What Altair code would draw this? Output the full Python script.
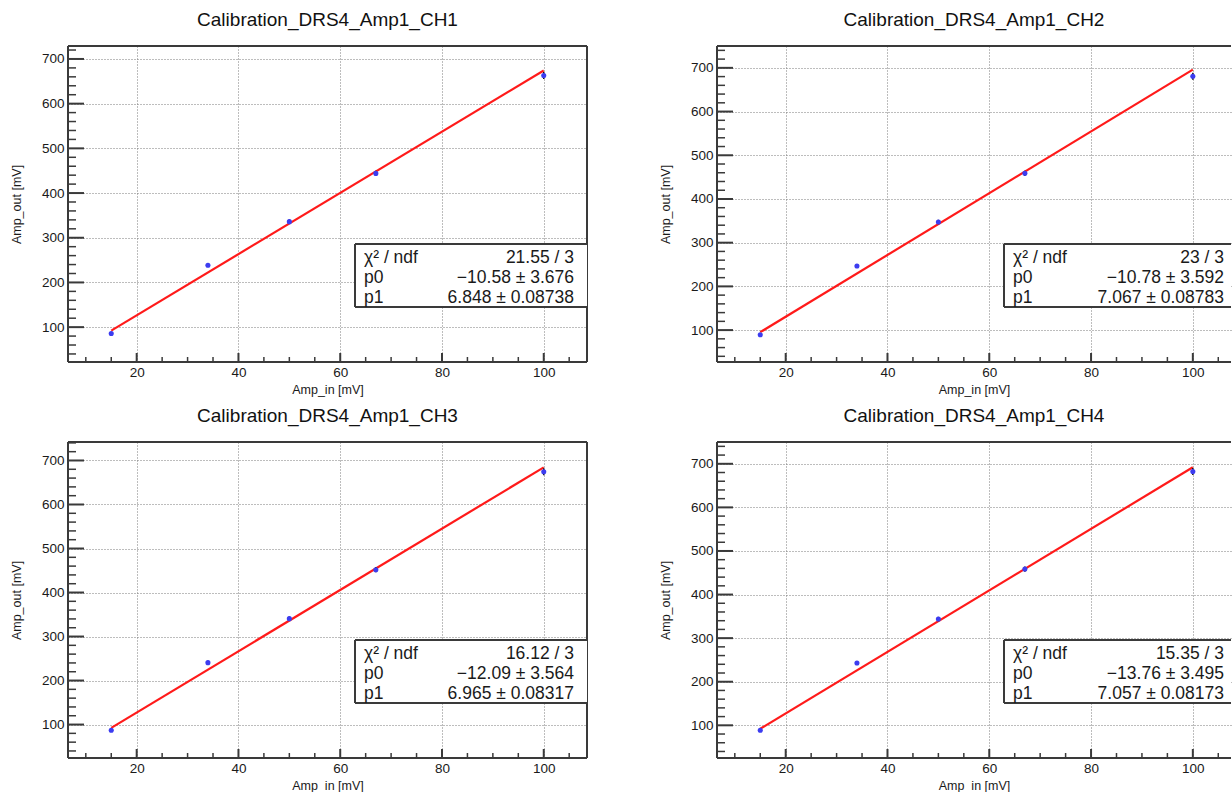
import altair as alt
import pandas as pd

# ---- calibration data: input amplitude vs measured output amplitude ----
TITLES = [
    "Calibration_DRS4_Amp1_CH1",
    "Calibration_DRS4_Amp1_CH2",
    "Calibration_DRS4_Amp1_CH3",
    "Calibration_DRS4_Amp1_CH4",
]
AMP_IN = [15, 34, 50, 67, 100]
AMP_OUT_CH1 = [85.9, 238.3, 336.0, 444.0, 663.0]
AMP_OUT_CH2 = [89.3, 246.6, 347.3, 458.8, 680.9]
AMP_OUT_CH3 = [87.1, 240.7, 340.6, 451.8, 674.3]
AMP_OUT_CH4 = [88.5, 242.9, 343.8, 458.5, 682.4]
AMP_OUT = [AMP_OUT_CH1, AMP_OUT_CH2, AMP_OUT_CH3, AMP_OUT_CH4]
AMP_ERR = [3.0, 4.0, 5.0, 6.0, 8.0]

# ---- linear fit results (pol1: p0 + p1 * x) ----
CHI2 = ["21.55", "23", "16.12", "15.35"]
NDF = 3
P0 = [-10.58, -10.78, -12.09, -13.76]
P0_ERR = [3.676, 3.592, 3.564, 3.495]
P1 = [6.848, 7.067, 6.965, 7.057]
P1_ERR = [0.08738, 0.08783, 0.08317, 0.08173]
FIT_RANGE = [15, 100]

# ---- axes ----
Y_DOMAINS = [(22, 729), (27, 750), (24, 742), (25, 750)]
X_DOMAINS = [(6.5, 108.5), (6.5, 107.5), (6.5, 108.5), (6.5, 107.5)]
X_MAJOR = [20, 40, 60, 80, 100]
Y_MAJOR = [100, 200, 300, 400, 500, 600, 700]

FONT = "Liberation Sans"
FRAME = "#3a3a3a"
TEXT = "#1a1a1a"
HEIGHT = 316
WIDTHS = [519, 514, 519, 514]


def fmt(v):
    return f"{v:.4g}".replace("-", "\u2212")


def panel(i):
    w = WIDTHS[i]
    full_frame = (i % 2 == 0)
    lo, hi = Y_DOMAINS[i]
    xlo, xhi = X_DOMAINS[i]
    xs = alt.Scale(domain=[xlo, xhi], nice=False, zero=False)
    ys = alt.Scale(domain=[lo, hi], nice=False, zero=False)

    x_axis = alt.Axis(
        values=X_MAJOR, format="d", grid=True, gridDash=[1, 2], gridColor="#7a7a7a",
        gridWidth=1, domain=False, ticks=False, tickSize=0, labelPadding=3,
        labelFont=FONT, labelFontSize=13.5, labelColor=TEXT, labelFlush=False,
        title="Amp_in [mV]", titleFont=FONT, titleFontSize=12.5, titleFontWeight="normal",
        titleColor=TEXT, titleX=w / 2, titleY=27, titleAlign="center", titleBaseline="middle",
    )
    y_axis = alt.Axis(
        values=Y_MAJOR, format="d", grid=True, gridDash=[1, 2], gridColor="#7a7a7a",
        gridWidth=1, domain=False, ticks=False, tickSize=0, labelPadding=4,
        labelFont=FONT, labelFontSize=13.5, labelColor=TEXT,
        title="Amp_out [mV]", titleFont=FONT, titleFontSize=12.5, titleFontWeight="normal",
        titleColor=TEXT, titleAngle=270, titleX=-52, titleY=HEIGHT / 2,
        titleAlign="center", titleBaseline="middle",
    )

    def X(field):
        return alt.X(field, scale=xs, axis=x_axis)

    def Y(field):
        return alt.Y(field, scale=ys, axis=y_axis)

    pts = pd.DataFrame({
        "x": AMP_IN,
        "y": AMP_OUT[i],
        "lo": [v - e for v, e in zip(AMP_OUT[i], AMP_ERR)],
        "hi": [v + e for v, e in zip(AMP_OUT[i], AMP_ERR)],
    })
    fit = pd.DataFrame({"x": FIT_RANGE, "y": [P0[i] + P1[i] * x for x in FIT_RANGE]})

    y_minor = [v for v in range(20, 800, 20) if lo <= v <= hi and v % 100]
    x_minor = [v for v in range(5, 115, 5) if xlo <= v <= xhi and v % 20]

    one = pd.DataFrame({"k": [0]})

    points = alt.Chart(pts).mark_circle(size=26, color="#3c3cf0", opacity=1).encode(
        x=X("x:Q"), y=Y("y:Q"),
    )
    errbars = alt.Chart(pts).mark_rule(color="#111", strokeWidth=1.5).encode(
        x=X("x:Q"), y=Y("lo:Q"), y2="hi:Q",
    )
    line = alt.Chart(fit).mark_line(color="#ff1a1a", strokeWidth=2.2).encode(
        x=X("x:Q"), y=Y("y:Q"),
    )

    def yticks(vals, length, sw):
        return alt.Chart(pd.DataFrame({"v": vals})).mark_rule(color=FRAME, strokeWidth=sw).encode(
            y=Y("v:Q"), x=alt.value(0), x2=alt.value(length)
        )

    def xticks(vals, length, sw):
        return alt.Chart(pd.DataFrame({"v": vals})).mark_rule(color=FRAME, strokeWidth=sw).encode(
            x=X("v:Q"), y=alt.value(HEIGHT), y2=alt.value(HEIGHT - length)
        )

    def hrule(y, x0, x1, sw=2):
        return alt.Chart(one).mark_rule(color=FRAME, strokeWidth=sw).encode(
            x=alt.value(x0), x2=alt.value(x1), y=alt.value(y)
        )

    def vrule(x, y0, y1, sw=2):
        return alt.Chart(one).mark_rule(color=FRAME, strokeWidth=sw).encode(
            x=alt.value(x), y=alt.value(y0), y2=alt.value(y1)
        )

    frame = [hrule(0, 0, w), hrule(HEIGHT, 0, w), vrule(0, 0, HEIGHT)]
    if full_frame:
        frame.append(vrule(w, 0, HEIGHT))

    # statistics box
    bx0, by0, by1 = 287, 198, 261
    box = alt.Chart(one).mark_rect(color="white").encode(
        x=alt.value(bx0), x2=alt.value(w), y=alt.value(by0), y2=alt.value(by1)
    )
    box_edges = [hrule(by0, bx0, w), hrule(by1, bx0, w), vrule(bx0, by0, by1)]
    names = "\u03c7\u00b2 / ndf\np0\np1"
    values = (
        f"{CHI2[i]} / {NDF}\n"
        f"{fmt(P0[i])} \u00b1 {fmt(P0_ERR[i])}\n"
        f"{fmt(P1[i])} \u00b1 {fmt(P1_ERR[i])}"
    )
    txt_l = alt.Chart(one).mark_text(
        align="left", baseline="alphabetic", font=FONT, fontSize=17.5, color=TEXT,
        lineBreak="\n", lineHeight=20,
    ).encode(x=alt.value(bx0 + 9), y=alt.value(217), text=alt.value(names))
    txt_r = alt.Chart(one).mark_text(
        align="right", baseline="alphabetic", font=FONT, fontSize=17.5, color=TEXT,
        lineBreak="\n", lineHeight=20,
    ).encode(x=alt.value(507 if not full_frame else w - 13), y=alt.value(217), text=alt.value(values))

    layers = [yticks(Y_MAJOR, 16, 2), yticks(y_minor, 8, 1.5),
              xticks(X_MAJOR, 9, 2), xticks(x_minor, 5, 1.5)] + frame + \
             [line, errbars, points, box] + box_edges + [txt_l, txt_r]
    return alt.layer(*layers).properties(
        width=w, height=HEIGHT,
        title=alt.TitleParams(
            TITLES[i], font=FONT, fontSize=19, fontWeight="normal", color="#111",
            anchor="middle", frame="group", baseline="alphabetic", offset=0,
        ),
    )


chart = alt.concat(
    *[panel(i) for i in range(4)], columns=2, bounds="flush",
    spacing={"row": 80, "column": 130},
).properties(
    padding={"left": 10, "top": 11, "right": 0, "bottom": 0},
    background="white",
).configure_view(stroke=None)

chart.save("out.html", embed_options={"renderer": "svg", "actions": False})
